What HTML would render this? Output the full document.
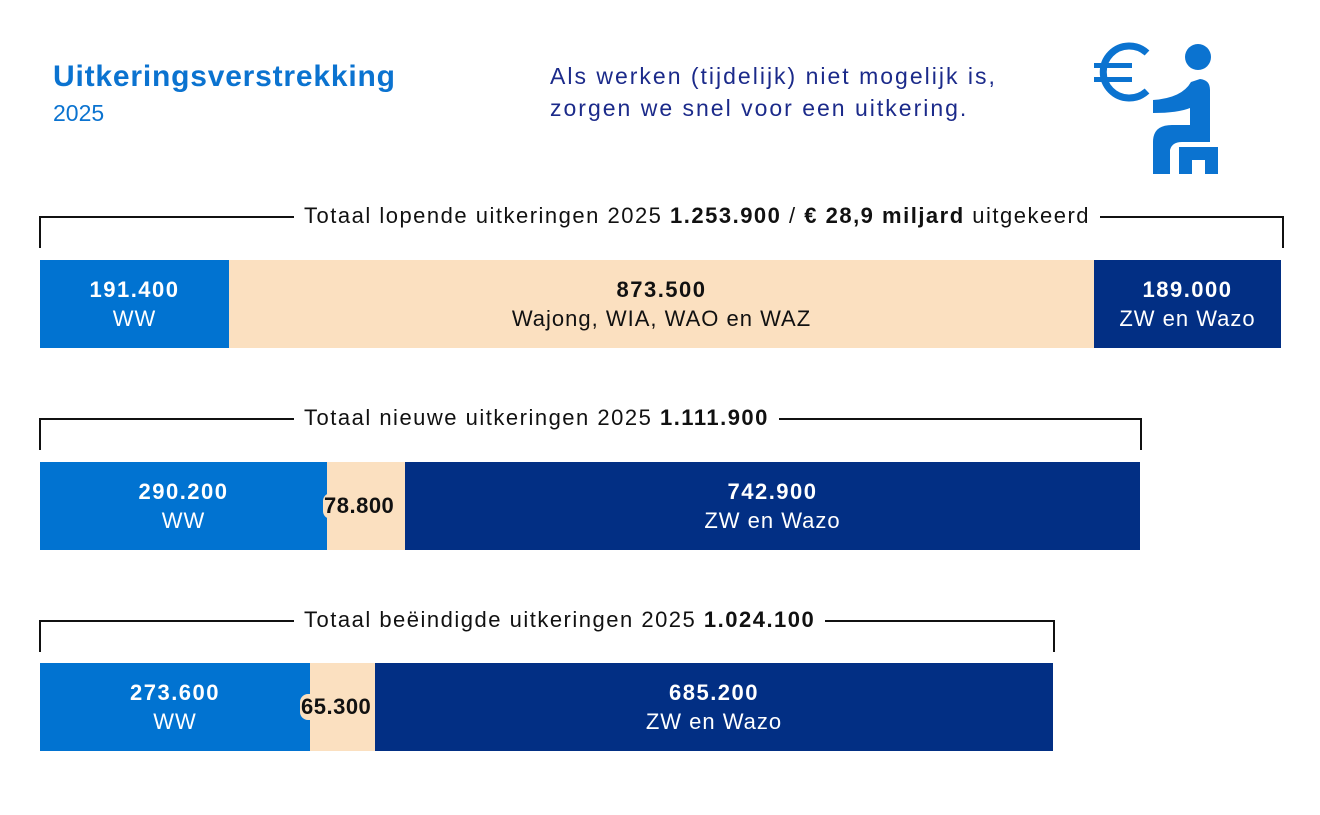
<!DOCTYPE html><html><head><meta charset="utf-8"><style>
body{margin:0;width:1320px;height:815px;background:#fff;font-family:"Liberation Sans",sans-serif;position:relative;overflow:hidden}
.a{position:absolute}
.t{color:#0b73d0}
.bar{position:absolute;display:flex;flex-direction:column;align-items:center;justify-content:center;font-size:22px;line-height:29px;color:#fff;letter-spacing:1px;white-space:nowrap}
.bar b{font-size:22px;letter-spacing:1.5px}
.bl{background:#0173d1}.be{background:#fbe0c0;color:#111}.nv{background:#022f84}
.br{position:absolute;border:2px solid #111;border-bottom:none;height:30px}
.lab{position:absolute;background:#fff;padding:0 10px;font-size:22px;color:#111;line-height:24px;letter-spacing:1.5px;white-space:nowrap}
.pill{background:#fbe0c0;border-radius:8px;color:#111;font-weight:bold;font-size:22px;padding:0 1px;letter-spacing:0.5px}
</style></head><body>
<div class="a t" style="left:53px;top:60px;font-size:30px;font-weight:bold;letter-spacing:0.8px">Uitkeringsverstrekking</div>
<div class="a t" style="left:53px;top:100px;font-size:23px">2025</div>
<div class="a" style="left:550px;top:60px;font-size:23px;line-height:32px;color:#1b2a8a;letter-spacing:2px;white-space:nowrap">Als werken (tijdelijk) niet mogelijk is,<br>zorgen we snel voor een uitkering.</div>
<svg class="a" style="left:1090px;top:40px" width="140" height="140" viewBox="0 0 140 140">
<g fill="#0b73d0"><circle cx="108" cy="17" r="13"/>
<path d="M57 13 A26 26 0 1 0 57 51" fill="none" stroke="#0b73d0" stroke-width="7"/>
<rect x="4" y="23" width="38" height="5"/><rect x="4" y="37" width="38" height="5"/>
<path d="M63 60 Q92 58 101 42 L110 39 Q120 40 120 50 L120 102 L92 102 Q82 102 80 110 L80 134 L63 134 L63 102 Q63 85 82 85 L100 85 L100 68 Q88 73 63 73 Z"/>
<path d="M89 107 L128 107 L128 134 L115 134 L115 120 L102 120 L102 134 L89 134 Z"/></g></svg>

<div class="br" style="left:39px;top:216px;width:1241px"></div>
<div class="lab" style="left:294px;top:204px">Totaal lopende uitkeringen 2025 <b>1.253.900</b> / <b>€ 28,9 miljard</b> uitgekeerd</div>
<div class="bar bl" style="left:40px;top:260px;width:189px;height:88px"><b>191.400</b>WW</div>
<div class="bar be" style="left:229px;top:260px;width:865px;height:88px"><b>873.500</b>Wajong, WIA, WAO en WAZ</div>
<div class="bar nv" style="left:1094px;top:260px;width:187px;height:88px"><b>189.000</b>ZW en Wazo</div>

<div class="br" style="left:39px;top:418px;width:1099px"></div>
<div class="lab" style="left:294px;top:406px">Totaal nieuwe uitkeringen 2025 <b>1.111.900</b></div>
<div class="bar bl" style="left:40px;top:462px;width:287px;height:88px"><b>290.200</b>WW</div>
<div class="bar be" style="left:327px;top:462px;width:78px;height:88px"></div>
<div class="bar nv" style="left:405px;top:462px;width:735px;height:88px"><b>742.900</b>ZW en Wazo</div>
<div class="a pill" style="left:323px;top:493px">78.800</div>

<div class="br" style="left:39px;top:620px;width:1012px"></div>
<div class="lab" style="left:294px;top:608px">Totaal beëindigde uitkeringen 2025 <b>1.024.100</b></div>
<div class="bar bl" style="left:40px;top:663px;width:270px;height:88px"><b>273.600</b>WW</div>
<div class="bar be" style="left:310px;top:663px;width:65px;height:88px"></div>
<div class="bar nv" style="left:375px;top:663px;width:678px;height:88px"><b>685.200</b>ZW en Wazo</div>
<div class="a pill" style="left:300px;top:694px">65.300</div>
</body></html>
